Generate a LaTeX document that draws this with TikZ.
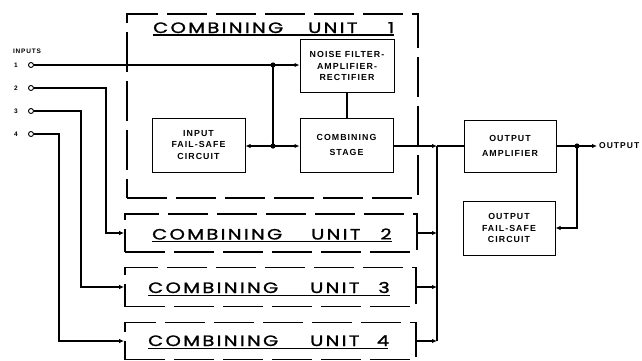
\documentclass[tikz,border=0pt]{standalone}
\usepackage{fontspec}
\usepackage{graphicx}
\setmainfont{Liberation Sans}
\newfontfamily\titlefont[LetterSpace=12,FakeBold=1.2]{Poppins}
\newfontfamily\boxfont[LetterSpace=12]{Liberation Sans}
\newcommand{\ttext}[1]{\scalebox{1.3}[1]{#1}}
\usetikzlibrary{arrows.meta}
\begin{document}
\begin{tikzpicture}[x=1pt,y=-1pt,
  blk/.style={draw, line width=1pt, inner sep=0pt, align=center,
    font=\boxfont\bfseries\fontsize{8.8}{11.5}\selectfont},
  unitbox/.style={draw, line width=1.8pt, dash pattern=on 40pt off 9pt, inner sep=0pt},
  ttl/.style={anchor=base west, inner sep=0pt, font=\titlefont\fontsize{15}{15}\selectfont},
  ttlc/.style={anchor=base, inner sep=0pt, font=\titlefont\fontsize{15}{15}\selectfont},
  uline/.style={line width=1.2pt},
  conn/.style={line width=1.1pt},
  arr/.style={conn, -{Latex[length=5pt,width=4.5pt]}},
  inp/.style={draw, circle, minimum size=5pt, inner sep=0pt, line width=0.9pt},
  lbl/.style={inner sep=0pt, font=\boxfont\bfseries\fontsize{6.5}{7}\selectfont}
]
\useasboundingbox (0,0) rectangle (642,360);

% combining units (dashed)
\node[unitbox, minimum width=291pt, minimum height=184pt] (cu1) at (272.5,106) {};
\node[unitbox, minimum width=292pt, minimum height=38pt] (cu2) at (271,233) {};
\node[unitbox, minimum width=291pt, minimum height=39pt] (cu3) at (270.5,287) {};
\node[unitbox, minimum width=291pt, minimum height=37pt] (cu4) at (270.5,341) {};

% titles
\node[ttl] (t1a) at (153,33) {\ttext{COMBINING}};
\node[ttl] (t1b) at (308,33) {\ttext{UNIT}};
\node[ttlc] (t1c) at (391,33) {\ttext{1}};
\draw[uline] (153,35) -- (394,35);

\node[ttl] (t2a) at (152,239.5) {\ttext{COMBINING}};
\node[ttl] (t2b) at (311,239.5) {\ttext{UNIT}};
\node[ttlc] (t2c) at (386,239.5) {\ttext{2}};
\draw[uline] (152,241.5) -- (392,241.5);

\node[ttl] (t3a) at (148,293) {\ttext{COMBINING}};
\node[ttl] (t3b) at (310,293) {\ttext{UNIT}};
\node[ttlc] (t3c) at (384,293) {\ttext{3}};
\draw[uline] (148,295.5) -- (390,295.5);

\node[ttl] (t4a) at (148,346) {\ttext{COMBINING}};
\node[ttl] (t4b) at (310,346) {\ttext{UNIT}};
\node[ttlc] (t4c) at (383,346) {\ttext{4}};
\draw[uline] (148,348.5) -- (388,348.5);

% blocks
\node[blk, minimum width=94pt, minimum height=53pt] (nf) at (347,66) {NOISE FILTER-\\AMPLIFIER-\\RECTIFIER};
\node[blk, minimum width=93pt, minimum height=54pt] (cs) at (346.5,145) {COMBINING\\[3pt]STAGE};
\node[blk, minimum width=93pt, minimum height=54pt] (ifs) at (198.5,145) {INPUT\\FAIL-SAFE\\CIRCUIT};
\node[blk, minimum width=92pt, minimum height=52pt] (oa) at (510,146) {OUTPUT\\[3pt]AMPLIFIER};
\node[blk, minimum width=92pt, minimum height=54pt] (ofs) at (509,228) {OUTPUT\\FAIL-SAFE\\CIRCUIT};

% inputs
\node[lbl] (inputs) at (27,51) {INPUTS};
\node[inp] (in1) at (31,65) {};
\node[inp] (in2) at (31,88) {};
\node[inp] (in3) at (31,111) {};
\node[inp] (in4) at (31,134) {};
\node[lbl] (n1) at (16,65) {1};
\node[lbl] (n2) at (16,88) {2};
\node[lbl] (n3) at (16,111) {3};
\node[lbl] (n4) at (16,134) {4};

% junctions
\coordinate (j1) at (273,65);
\coordinate (j2) at (273,146);
\coordinate (c2) at (106,233);
\coordinate (c3) at (81,287);
\coordinate (c4) at (59,341);
\coordinate (bt) at (437,146);
\coordinate (bb) at (437,341);
\coordinate (j3) at (577,146);
\node[anchor=west, inner sep=2pt, font=\boxfont\bfseries\fontsize{8.5}{10}\selectfont] (out) at (597,146) {OUTPUT};

% connectors
\draw[arr] (in1) -- (in1 -| nf.west);
\draw[conn] (j1) -- (j2);
\draw[arr] (j2) -- (j2 -| cs.west);
\draw[arr] (j2) -- (j2 -| ifs.east);
\draw[conn] (nf.south) -- (nf.south |- cs.north);

\draw[arr] (in2) -| (c2) -- (cu2.west);
\draw[arr] (in3) -| (c3) -- (cu3.west);
\draw[arr] (in4) -| (c4) -- (cu4.west);

\draw[arr] (cs.east |- bt) -- (bt);
\draw[conn] (bt) -- (bt -| oa.west);
\draw[conn] (bt) -- (bb);
\draw[arr] (cu2.east) -- (cu2.east -| bt);
\draw[arr] (cu3.east) -- (cu3.east -| bt);
\draw[arr] (cu4.east) -- (bb);

\draw[conn] (oa.east |- j3) -- (j3);
\draw[arr] (j3) -- (out.west);
\draw[arr] (j3) |- (ofs.east);

\fill (j1) circle (2.6pt);
\fill (j2) circle (2.6pt);
\fill (j3) circle (2.6pt);
\end{tikzpicture}
\end{document}
